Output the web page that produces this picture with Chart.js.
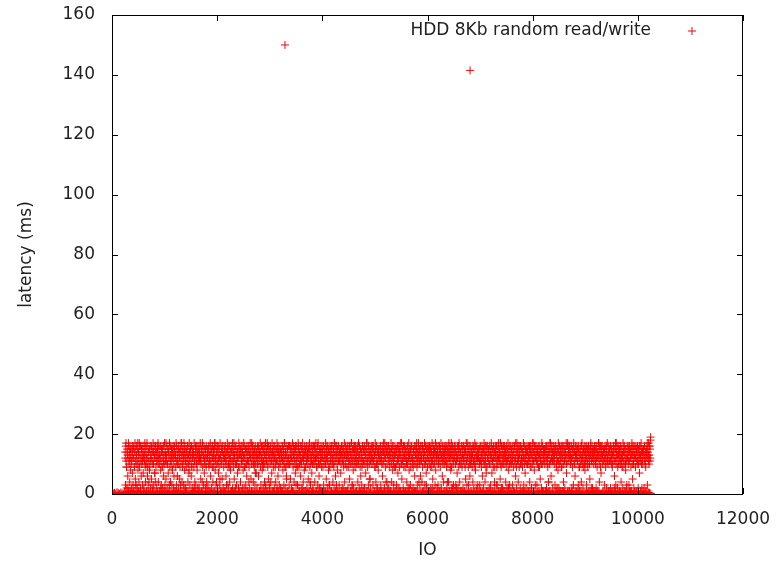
<!DOCTYPE html>
<html>
<head>
<meta charset="utf-8">
<script src="https://cdn.jsdelivr.net/npm/chart.js@4"></script>
<style>
  body { margin: 0; background: #fff; }
  #wrap { width: 777px; height: 562px; }
</style>
</head>
<body>
<div id="wrap"><canvas id="latencyChart" width="777" height="562"></canvas></div>
<script>
// latency (ms) of the slow IOs, one sample every 6.25 IO starting at IO 250
const bandStartIO = 250;
const bandStepIO = 6.25;
const bandLatency = [
  14,3,16,11,9,2,15,13,6,12,17,1,10,14,4,16,8,12,15,2,11,13,7,16,3,
  12,15,1,9,14,17,5,11,3,13,16,10,2,15,8,12,14,4,17,9,13,1,16,11,6,
  15,10,13,3,16,7,12,2,14,11,17,9,4,15,13,1,10,16,6,12,3,14,11,15,8,
  9,16,2,13,12,5,15,11,1,14,17,10,3,16,13,7,12,15,4,9,14,2,11,16,13,
  17,4,12,15,10,1,13,16,8,11,3,14,9,15,2,12,16,6,13,10,17,3,14,11,5,
  11,13,16,2,10,15,7,14,12,1,17,9,13,4,16,11,15,3,12,8,14,16,2,10,13,
  16,1,14,12,9,17,3,11,15,6,13,10,2,16,14,5,12,9,15,1,11,17,13,4,14,
  10,15,12,3,17,13,8,16,2,11,14,9,1,15,12,16,4,13,10,7,17,14,3,12,15,
  13,6,16,10,2,14,12,15,1,9,17,11,4,13,16,3,15,10,12,8,14,2,16,11,13,
  2,14,11,16,12,5,10,15,13,1,17,9,14,3,12,16,7,11,15,2,13,10,16,4,12,
  15,12,3,14,16,9,1,13,11,17,6,10,15,2,14,12,16,4,9,13,11,1,15,17,8,
  12,16,10,4,13,15,2,11,14,7,16,9,12,3,17,13,1,10,15,11,5,14,16,2,13,
  9,13,15,1,16,12,10,6,14,11,3,17,15,9,2,13,16,12,4,10,14,8,11,15,1,
  16,11,2,14,13,9,17,5,12,15,1,10,16,13,3,11,14,7,15,12,2,17,9,13,16,
  13,4,15,10,12,16,1,14,11,8,13,17,2,9,16,12,15,3,10,14,6,13,11,1,15,
  11,16,9,13,2,15,12,14,5,10,17,1,13,16,11,4,14,12,9,15,3,16,10,13,7,
  14,2,12,16,10,13,6,15,11,1,14,17,9,3,12,16,13,8,10,15,2,11,14,16,4,
  10,13,17,3,15,11,12,1,16,9,14,5,13,15,2,12,10,16,4,14,11,7,17,13,1,
  15,9,11,14,2,16,13,10,4,12,15,1,17,11,14,6,13,9,16,3,12,15,10,2,14,
  12,14,1,16,11,8,13,15,3,10,17,12,2,14,9,16,5,13,11,15,1,12,16,10,3,
  16,10,13,5,12,15,2,14,11,17,1,9,16,13,4,15,12,10,7,14,3,11,16,13,9,
  3,15,12,16,9,1,14,13,11,6,16,10,15,2,12,17,13,4,11,14,8,16,9,1,15,
  13,11,16,2,14,12,10,5,15,13,1,17,9,14,3,12,16,11,7,15,10,2,13,16,12,
  10,16,4,13,15,11,1,12,14,9,16,3,17,11,13,6,15,10,2,14,12,16,1,9,13,
  14,12,9,16,3,11,15,13,1,10,17,14,5,12,16,2,13,11,15,8,9,14,3,16,11,
  11,15,13,1,16,10,12,4,14,15,9,2,17,13,11,6,16,12,3,14,10,15,1,13,16,
  16,3,11,14,12,15,7,10,13,1,16,11,14,2,15,9,12,17,4,13,10,16,1,12,14,
  12,14,16,2,9,13,15,11,5,16,10,1,14,12,17,3,11,15,13,8,2,16,10,14,11,
  9,16,12,13,1,15,11,14,4,10,17,12,2,16,13,9,15,6,11,14,3,12,16,10,1,
  15,11,2,16,14,10,13,7,12,15,1,17,11,9,14,3,16,12,10,13,5,15,2,14,16,
  13,10,15,12,3,16,11,14,1,13,9,17,15,4,12,10,16,2,14,11,8,13,15,1,12,
  11,16,14,3,13,12,10,15,6,16,1,14,11,13,2,17,12,9,15,4,14,16,10,13,2,
  13,16,2,11,15,9,14,1,12,17,10,4,15,13,8,16,11,3,14,12,9,16,1,13,15,
  10,3,14,16,12,7,11,15,2,13,9,16,14,1,12,10,17,5,15,11,13,2,16,9,14,
  16,12,9,1,15,13,11,4,14,10,16,2,12,17,8,13,15,11,3,9,14,16,1,12,10,
  12,2,15,14,11,16,6,10,13,1,15,12,17,9,3,14,11,16,13,4,10,15,2,12,16,
  14,11,13,4,16,9,15,1,12,14,10,17,3,13,16,11,7,15,2,12,9,14,16,1,11,
  1,16,10,13,15,2,12,14,9,17,11,5,16,13,1,10,15,12,3,14,8,16,11,13,2,
  15,13,3,12,10,16,14,1,11,9,15,17,2,13,12,6,16,10,14,4,11,15,13,1,16,
  11,14,16,9,2,13,15,10,12,4,17,14,1,16,11,13,8,15,9,2,12,16,14,10,3,
  13,1,12,15,16,10,3,14,11,13,7,16,12,2,15,9,17,11,4,13,14,1,10,16,12,
  9,15,13,2,11,16,12,14,1,10,15,5,13,17,11,3,16,12,14,9,1,15,11,13,6,
  16,10,1,14,12,15,9,13,4,16,11,2,15,12,17,10,8,14,13,1,16,11,12,3,15,
  12,13,15,10,3,16,11,1,14,9,13,16,6,12,15,2,11,17,10,14,4,13,16,9,1,
  14,9,16,12,1,11,15,13,2,16,10,14,3,12,17,13,7,15,11,1,9,16,12,14,4,
  2,12,14,15,11,16,9,3,13,10,16,12,1,15,14,11,5,17,13,9,2,16,10,15,12,
  11,16,13,1,14,12,10,15,4,13,16,9,2,11,15,17,12,8,14,10,3,13,16,11,1,
  15,10,12,16,3,13,14,9,1,16,11,15,12,6,10,14,2,17,13,11,16,4,12,15,9,
  13,14,2,10,16,11,12,15,1,9,14,13,17,3,16,10,12,7,15,11,2,14,13,16,10,
  10,1,16,13,12,15,4,11,14,16,9,2,13,15,10,12,17,1,14,11,8,16,13,3,12,
  16,13,11,3,15,10,14,12,9,1,16,13,15,5,11,12,14,2,17,10,16,13,1,15,11,
  12,15,10,14,1,16,13,2,11,15,12,9,16,4,14,13,10,1,15,17,11,6,12,16,14,
  14,2,13,16,11,12,15,10,3,14,16,1,9,13,12,15,11,8,17,14,2,10,16,13,1,
  11,13,16,9,14,1,12,15,10,4,16,13,11,2,15,14,12,17,7,10,13,16,1,11,15,
  16,12,1,15,13,10,14,11,16,2,12,9,15,13,3,17,11,14,10,6,16,12,1,13,15,
  13,15,11,2,16,14,9,12,1,15,10,13,16,4,11,17,12,14,2,9,15,13,16,10,8,
  10,14,16,12,3,13,11,15,9,1,16,14,12,10,5,15,13,17,1,11,14,16,2,12,13,
  15,1,12,14,16,11,10,13,2,15,16,9,14,12,1,13,17,11,4,15,10,16,12,7,14,
  12,16,13,10,1,14,15,11,12,3,16,13,9,15,14,2,11,17,12,10,16,1,13,15,11,
  14,11,2,16,13,15,12,9,10,1,14,16,13,11,6,15,12,17,3,10,14,13,16,2,9,
  16,13,15,11,1,12,14,10,16,4,13,15,9,12,2,17,14,11,16,1,13,10,15,8,12,
  11,2,14,16,12,13,10,15,3,11,16,14,12,1,9,15,13,17,10,5,14,16,11,2,13,
  13,16,12,9,15,1,14,11,13,16,10,2,15,12,14,7,16,11,13,1,17,10,15,12,14,
  10,14,15,13,2,16,11,12,14,9,1,15,13,16,3,12,14,11,17,10,13,16,15,12,19
];

// a second set of slow IO samples, every 12.5 IO starting at IO 253
const bandBStartIO = 253;
const bandBStepIO = 12.5;
const bandLatencyB = [
  12,17,9,14,2,16,11,13,15,10,1,14,16,12,9,15,3,13,11,17,14,10,16,2,12,
  15,11,14,1,13,16,10,12,17,9,14,4,15,11,13,16,2,10,14,12,7,16,13,11,15,
  10,16,13,12,2,15,14,9,11,16,1,13,17,12,10,15,14,3,16,11,13,9,15,12,6,
  14,13,1,16,11,10,15,12,14,3,17,16,9,13,11,15,2,12,14,10,16,13,8,11,15,
  16,9,12,15,13,2,11,14,16,10,13,1,15,12,17,11,14,4,16,13,10,12,15,9,2,
  13,15,10,11,16,14,1,12,9,15,13,17,11,3,14,16,10,12,15,5,13,11,16,14,1,
  11,12,16,14,3,13,15,10,16,9,12,14,1,17,15,11,13,16,2,10,14,12,9,15,13,
  15,14,11,2,16,12,13,9,15,10,16,11,14,4,13,17,12,1,15,16,10,13,11,7,14,
  12,10,15,16,13,1,14,11,12,16,9,15,13,2,11,14,17,10,16,12,3,15,13,11,14,
  16,13,12,9,15,11,2,16,14,10,13,15,1,12,16,11,14,17,9,13,6,10,15,12,16,
  10,15,16,12,1,14,13,11,15,16,9,12,3,17,14,10,13,16,11,2,15,12,14,13,9,
  13,11,14,16,12,15,4,10,13,16,14,1,11,15,12,17,9,13,16,10,2,14,11,15,12,
  14,16,1,13,10,12,15,11,16,14,3,9,13,15,16,11,12,10,17,14,1,16,13,8,11,
  11,14,13,15,16,2,12,10,14,13,16,15,9,1,12,11,16,14,13,17,10,3,15,12,16,
  15,12,10,16,14,11,13,1,15,12,9,16,14,11,2,13,15,17,10,12,16,14,5,11,13,
  12,16,15,11,13,9,14,16,2,10,15,13,12,16,11,1,14,10,17,15,13,12,16,4,14,
  16,11,13,14,1,15,12,16,10,13,14,9,15,2,11,16,12,14,13,17,10,15,11,1,12,
  13,15,12,10,16,11,14,2,13,15,16,12,11,9,14,1,16,13,15,10,12,17,14,11,6,
  11,13,16,15,12,14,10,11,3,16,13,15,12,14,9,16,11,2,13,15,10,14,17,12,16,
  14,10,12,16,15,13,1,11,14,12,16,10,15,13,11,4,16,14,12,9,15,17,13,2,11,
  15,16,14,11,2,12,13,16,15,10,14,11,1,13,16,12,15,9,14,11,17,13,3,16,10,
  12,14,11,13,16,15,10,9,16,12,2,14,13,15,11,16,12,10,14,1,15,13,16,11,7,
  16,12,15,14,10,1,13,16,11,15,12,14,9,16,13,3,11,15,17,12,14,10,16,13,2,
  10,13,16,12,14,11,15,13,2,16,10,12,15,14,11,13,1,16,12,17,9,15,14,11,16,
  13,16,10,15,11,14,12,1,16,13,15,10,14,11,12,16,9,13,2,15,17,11,14,16,12,
  15,11,14,16,13,9,12,15,10,16,1,13,11,14,15,12,16,10,13,4,14,17,11,15,12,
  11,14,12,13,16,15,10,2,14,11,16,13,15,12,9,16,14,1,11,15,13,10,16,17,13,
  14,16,13,11,12,1,15,16,10,14,13,12,16,11,15,3,9,14,13,16,12,10,15,11,14,
  12,15,16,10,14,13,11,15,16,2,12,14,10,13,16,15,11,12,1,14,17,16,13,9,15,
  16,13,11,14,15,12,10,16,13,11,14,1,15,16,12,10,13,14,16,2,11,15,17,12,13,
  10,14,15,16,12,11,13,9,14,16,15,10,12,3,13,16,11,14,15,12,1,16,13,10,15,
  13,12,16,14,11,15,10,13,16,12,14,2,11,15,13,16,10,12,14,15,17,13,16,11,18
];

// near-zero latency IOs (cache hits), one sample every 24 IO from IO 0
const fastStepIO = 24;
const fastLatency = [
  0,.2,.4,.1,.6,.3,0,.5,.2,.1,.7,.3,0,.4,.2,.6,.1,.3,0,.5,.2,.8,.1,.4,0,.3,.6,.2,.1,.5,
  .3,0,.1,.6,.2,.4,.7,0,.3,.5,.1,.2,.8,.4,0,.3,.6,.1,.2,.5,0,.4,.3,.7,.1,0,.2,.5,.6,.3,
  .1,.4,0,.2,.7,.3,.5,.1,0,.6,.2,.4,.3,0,.8,.1,.5,.2,.3,0,.6,.4,.1,.2,.7,0,.3,.5,.1,.4,
  .6,.1,.3,0,.5,.2,.4,.8,.1,0,.3,.6,.2,.5,.1,0,.4,.7,.3,.2,0,.5,.1,.6,.3,.4,0,.2,.8,.1,
  .2,.5,.1,.4,0,.7,.3,.2,.6,.1,0,.4,.5,.2,.3,.8,0,.1,.6,.4,.2,0,.3,.7,.5,.1,.2,0,.4,.6,
  0,.3,.6,.2,.1,.5,.4,0,.7,.3,.2,.1,.6,0,.4,.5,.2,.3,.1,.8,0,.6,.2,.4,.1,.3,0,.5,.7,.2,
  .4,.1,0,.5,.3,.6,.2,.1,0,.4,.8,.3,.2,.5,0,.1,.7,.4,.3,.2,.6,0,.1,.5,.4,.2,.3,0,.6,.1,
  .5,.2,.3,.7,0,.1,.4,.6,.2,0,.3,.5,.1,.8,.4,0,.2,.3,.6,.1,0,.7,.4,.2,.5,.3,.1,0,.2,.4,
  .1,.6,.4,0,.2,.3,.8,.1,.5,.2,0,.6,.3,.4,.1,.7,0,.2,.5,.3,.1,.4,0,.6,.2,.8,.3,.1,0,.5,
  .3,0,.5,.2,.4,.1,.6,0,.3,.7,.2,.1,.4,.5,0,.3,.2,.6,.1,0,.8,.4,.3,.2,.5,.1,0,.7,.3,.2,
  .2,.4,.1,.6,0,.3,.5,.2,.8,.1,.4,0,.3,.6,.2,.1,.5,0,.7,.4,.3,.1,.2,0,.6,.5,.3,.1,.4,0,
  .6,.3,0,.1,.5,.2,.4,.7,0,.3,.1,.6,.2,0,.5,.4,.8,.1,.3,.2,0,.6,.4,.1,.3,.5,0,.2,.7,.1,
  0,.5,.3,.2,.6,.1,0,.4,.7,.2,.3,.5,.1,0,.6,.2,.4,.3,.8,.1,0,.5,.2,.3,.6,.1,.4,0,.2,.5,
  .4,.2,.6,.1,0,.3,.5,.2,.1,.7,0,.4,.3,.6,.2,.1,0,.5,.3,.4,.8,.2,0,.1,.6,.3,.5,.2,0,.4,
  .1,.3,0,.6,.2,.5,.4,.1
];

// the two spikes
const spikeIO = [3290, 6810];
const spikeLatency = [150, 141.5];

const seriesLabel = 'HDD 8Kb random read/write';
const xTicks = [0, 2000, 4000, 6000, 8000, 10000, 12000];
const yTicks = [0, 20, 40, 60, 80, 100, 120, 140, 160];

const points = [];
fastLatency.forEach((v, i) => points.push({ x: i * fastStepIO, y: v }));
bandLatency.forEach((v, i) => points.push({ x: bandStartIO + i * bandStepIO, y: v }));
bandLatencyB.forEach((v, i) => points.push({ x: bandBStartIO + i * bandBStepIO, y: v }));
spikeIO.forEach((io, i) => points.push({ x: io, y: spikeLatency[i] }));

const FONT = '"DejaVu Sans", Verdana, sans-serif';
const FONT_SIZE = 17;
const TEXT = '#222';
const RED = '#ff0000';

// gnuplot style frame: full box, inward ticks mirrored on all sides, key inside
const framePlugin = {
  id: 'frame',
  afterDraw(chart) {
    const { ctx, chartArea: a, scales } = chart;
    ctx.save();
    ctx.strokeStyle = '#000';
    ctx.lineWidth = 1;
    ctx.strokeRect(a.left + 0.5, a.top + 0.5, a.right - a.left - 1, a.bottom - a.top);
    const t = 6;
    ctx.beginPath();
    xTicks.forEach(v => {
      const px = Math.round(scales.x.getPixelForValue(v)) + 0.5;
      ctx.moveTo(px, a.bottom); ctx.lineTo(px, a.bottom - t);
      ctx.moveTo(px, a.top); ctx.lineTo(px, a.top + t);
    });
    yTicks.forEach(v => {
      const py = Math.round(scales.y.getPixelForValue(v)) + 0.5;
      ctx.moveTo(a.left, py); ctx.lineTo(a.left + t, py);
      ctx.moveTo(a.right, py); ctx.lineTo(a.right - t, py);
    });
    ctx.stroke();

    // key
    ctx.font = FONT_SIZE + 'px ' + FONT;
    ctx.fillStyle = TEXT;
    ctx.textAlign = 'right';
    ctx.textBaseline = 'middle';
    ctx.fillText(seriesLabel, a.right - 92, a.top + 16);
    ctx.strokeStyle = RED;
    const mx = a.right - 51, my = a.top + 16;
    ctx.beginPath();
    ctx.moveTo(mx - 4, my); ctx.lineTo(mx + 4, my);
    ctx.moveTo(mx, my - 4); ctx.lineTo(mx, my + 4);
    ctx.stroke();
    ctx.restore();
  }
};

function noOverflow(s) {
  s.paddingLeft = 0; s.paddingRight = 0; s.paddingTop = 0; s.paddingBottom = 0;
}

new Chart(document.getElementById('latencyChart'), {
  type: 'scatter',
  data: {
    datasets: [{
      label: seriesLabel,
      data: points,
      pointStyle: 'cross',
      pointRadius: 4,
      pointHoverRadius: 4,
      pointBorderWidth: 1,
      pointBorderColor: RED,
      pointBackgroundColor: RED,
      pointHoverBorderColor: RED,
      borderColor: RED,
      backgroundColor: RED
    }]
  },
  options: {
    responsive: false,
    animation: false,
    events: [],
    layout: { padding: { top: 15, right: 34, left: 0, bottom: 0 } },
    plugins: { legend: { display: false }, tooltip: { enabled: false } },
    scales: {
      x: {
        type: 'linear',
        min: 0, max: 12000,
        afterFit(s) { s.height = 68; noOverflow(s); },
        afterBuildTicks(s) { s.ticks = xTicks.map(v => ({ value: v })); },
        grid: { display: false, drawTicks: false },
        border: { display: false },
        ticks: { padding: 15, color: TEXT, font: { family: FONT, size: FONT_SIZE }, maxRotation: 0,
                 callback: v => String(v) },
        title: { display: true, text: 'IO', color: TEXT, font: { family: FONT, size: FONT_SIZE },
                 padding: { top: 4, bottom: 1 } }
      },
      y: {
        type: 'linear',
        min: 0, max: 160,
        afterFit(s) { s.width = 112; noOverflow(s); },
        afterBuildTicks(s) { s.ticks = yTicks.map(v => ({ value: v })); },
        grid: { display: false, drawTicks: false },
        border: { display: false },
        ticks: { padding: 17, color: TEXT, font: { family: FONT, size: FONT_SIZE },
                 callback: v => String(v) },
        title: { display: true, text: 'latency (ms)', color: TEXT, font: { family: FONT, size: FONT_SIZE },
                 padding: { top: 16, bottom: 0 } }
      }
    }
  },
  plugins: [framePlugin]
});
</script>
</body>
</html>
